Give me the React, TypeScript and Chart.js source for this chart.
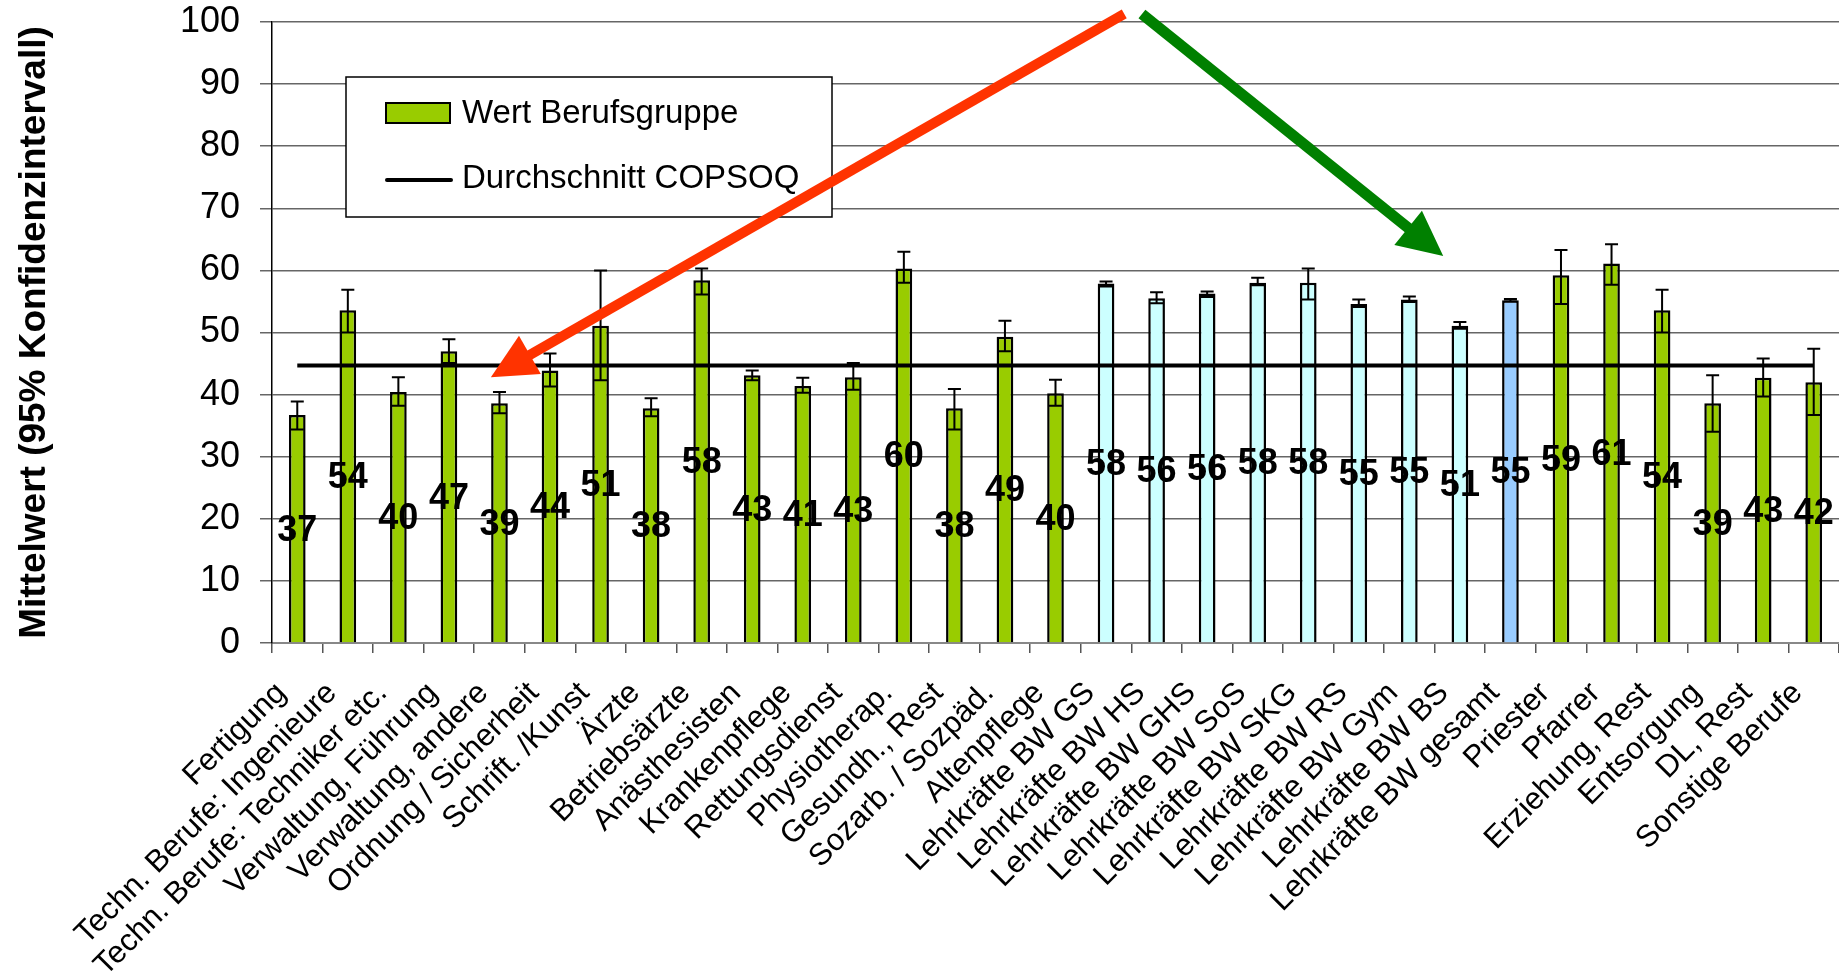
import React, { useEffect, useRef } from 'react';
import { Chart, registerables } from 'chart.js';

Chart.register(...registerables);

const categories: string[] = [
  'Fertigung',
  'Techn. Berufe: Ingenieure',
  'Techn. Berufe: Techniker etc.',
  'Verwaltung, Führung',
  'Verwaltung, andere',
  'Ordnung / Sicherheit',
  'Schrift. /Kunst',
  'Ärzte',
  'Betriebsärzte',
  'Anästhesisten',
  'Krankenpflege',
  'Rettungsdienst',
  'Physiotherap.',
  'Gesundh., Rest',
  'Sozarb. / Sozpäd.',
  'Altenpflege',
  'Lehrkräfte BW GS',
  'Lehrkräfte BW HS',
  'Lehrkräfte BW GHS',
  'Lehrkräfte BW SoS',
  'Lehrkräfte BW SKG',
  'Lehrkräfte BW RS',
  'Lehrkräfte BW Gym',
  'Lehrkräfte BW BS',
  'Lehrkräfte BW gesamt',
  'Priester',
  'Pfarrer',
  'Erziehung, Rest',
  'Entsorgung',
  'DL, Rest',
  'Sonstige Berufe',
];

const values: number[] = [
  36.7, 53.6, 40.4, 47.0, 38.6, 43.9, 51.1, 37.8, 58.4, 43.1, 41.4, 42.8, 60.3, 37.8, 49.3, 40.2,
  57.9, 55.5, 56.3, 58.0, 58.0, 54.6, 55.3, 51.1, 55.2, 59.2, 61.1, 53.6, 38.6, 42.7, 42.0,
];

const errLow: number[] = [
  34.4, 50.0, 38.2, 45.1, 37.0, 41.3, 42.3, 36.5, 56.1, 42.3, 40.3, 40.8, 58.0, 34.4, 47.0, 38.2,
  57.4, 54.7, 55.7, 57.6, 55.3, 54.1, 54.9, 50.6, 55.0, 54.6, 57.7, 50.0, 34.0, 39.7, 36.7,
];

const errHigh: number[] = [
  38.9, 56.9, 42.8, 48.9, 40.4, 46.6, 60.0, 39.4, 60.3, 43.9, 42.7, 45.1, 63.0, 40.9, 51.9, 42.4,
  58.2, 56.5, 56.6, 58.8, 60.3, 55.3, 55.8, 51.7, 55.4, 63.3, 64.2, 56.9, 43.1, 45.8, 47.4,
];

// g = general occupation group, t = teacher subgroup, tt = teachers total
const groups: string[] = [
  'g', 'g', 'g', 'g', 'g', 'g', 'g', 'g', 'g', 'g', 'g', 'g', 'g', 'g', 'g', 'g',
  't', 't', 't', 't', 't', 't', 't', 't', 'tt', 'g', 'g', 'g', 'g', 'g', 'g',
];

const averageCOPSOQ = 44.7;

const seriesLabels: string[] = ['Wert Berufsgruppe', 'Durchschnitt COPSOQ'];
const yAxisTitle = 'Mittelwert (95% Konfidenzintervall)';

const FONT = "'Liberation Sans', Arial, Helvetica, sans-serif";
const groupColor: Record<string, string> = { g: '#99CC00', t: '#CCFFFF', tt: '#99CCFF' };

// annotation arrows, in (category index, value) units
const arrows = [
  { from: [16.36, 101.3], to: [3.83, 42.8], color: '#FF3300', width: 10 },
  { from: [16.71, 101.3], to: [22.67, 62.3], color: '#008000', width: 11 },
];

function drawArrow(ctx: CanvasRenderingContext2D, x1: number, y1: number, x2: number, y2: number, color: string, width: number) {
  const dx = x2 - x1;
  const dy = y2 - y1;
  const len = Math.hypot(dx, dy);
  const ux = dx / len;
  const uy = dy / len;
  const headLen = 45;
  const headHalf = 22;
  const bx = x2 - ux * headLen;
  const by = y2 - uy * headLen;
  ctx.save();
  ctx.strokeStyle = color;
  ctx.lineWidth = width;
  ctx.lineCap = 'butt';
  ctx.beginPath();
  ctx.moveTo(x1, y1);
  ctx.lineTo(bx + ux * 3, by + uy * 3);
  ctx.stroke();
  ctx.fillStyle = color;
  ctx.beginPath();
  ctx.moveTo(x2, y2);
  ctx.lineTo(bx - uy * headHalf, by + ux * headHalf);
  ctx.lineTo(bx + uy * headHalf, by - ux * headHalf);
  ctx.closePath();
  ctx.fill();
  ctx.restore();
}

const errorBarPlugin = {
  id: 'errorBarsAndLabels',
  afterDatasetsDraw(chart: any) {
    const meta = chart.getDatasetMeta(0);
    const y = chart.scales.y;
    const ctx: CanvasRenderingContext2D = chart.ctx;
    ctx.save();
    ctx.strokeStyle = '#000';
    ctx.lineWidth = 2;
    meta.data.forEach((bar: any, i: number) => {
      const x = bar.x;
      const yh = y.getPixelForValue(errHigh[i]);
      const yl = y.getPixelForValue(errLow[i]);
      ctx.beginPath();
      ctx.moveTo(x, yh);
      ctx.lineTo(x, yl);
      ctx.moveTo(x - 6.5, yh);
      ctx.lineTo(x + 6.5, yh);
      ctx.moveTo(x - 6.5, yl);
      ctx.lineTo(x + 6.5, yl);
      ctx.stroke();
    });
    ctx.fillStyle = '#000';
    ctx.font = `bold 36px ${FONT}`;
    ctx.textAlign = 'center';
    ctx.textBaseline = 'middle';
    meta.data.forEach((bar: any, i: number) => {
      const cy = (bar.y + bar.base) / 2;
      ctx.fillText(String(Math.round(values[i])), bar.x, cy + 2);
    });
    ctx.restore();
  },
};

const legendArrowPlugin = {
  id: 'legendArrows',
  afterDraw(chart: any) {
    const ctx: CanvasRenderingContext2D = chart.ctx;
    const area = chart.chartArea;
    const bx = area.left + 74;
    const by = area.top + 55;
    const bw = 486;
    const bh = 140;
    ctx.save();
    ctx.fillStyle = '#fff';
    ctx.fillRect(bx, by, bw, bh);
    ctx.strokeStyle = '#000';
    ctx.lineWidth = 1.5;
    ctx.strokeRect(bx, by, bw, bh);
    // bar sample
    ctx.fillStyle = groupColor.g;
    ctx.fillRect(bx + 40, by + 26, 64, 20);
    ctx.lineWidth = 2;
    ctx.strokeRect(bx + 40, by + 26, 64, 20);
    // line sample
    ctx.lineWidth = 4;
    ctx.lineCap = 'round';
    ctx.beginPath();
    ctx.moveTo(bx + 41, by + 103);
    ctx.lineTo(bx + 105, by + 103);
    ctx.stroke();
    ctx.fillStyle = '#000';
    ctx.font = `33px ${FONT}`;
    ctx.textAlign = 'left';
    ctx.textBaseline = 'middle';
    const ds = chart.data.datasets;
    ctx.fillText(ds[0].label, bx + 116, by + 37);
    ctx.fillText(ds[1].label, bx + 116, by + 102);
    ctx.restore();

    const xs = chart.scales.x;
    const ys = chart.scales.y;
    arrows.forEach((a) => {
      drawArrow(
        ctx,
        xs.getPixelForValue(a.from[0]),
        ys.getPixelForValue(a.from[1]),
        xs.getPixelForValue(a.to[0]),
        ys.getPixelForValue(a.to[1]),
        a.color,
        a.width,
      );
    });
  },
};

export default function App() {
  const ref = useRef<HTMLCanvasElement>(null);
  useEffect(() => {
    document.body.style.margin = '0';
    const canvas = ref.current!;
    const chart = new Chart(canvas, {
      type: 'bar',
      data: {
        labels: categories,
        datasets: [
          {
            type: 'bar',
            label: seriesLabels[0],
            data: values,
            backgroundColor: groups.map((g) => groupColor[g]),
            borderColor: '#000',
            borderWidth: 2.5,
            barPercentage: 0.33,
            categoryPercentage: 1,
            order: 2,
          } as any,
          {
            type: 'line',
            label: seriesLabels[1],
            data: categories.map(() => averageCOPSOQ),
            borderColor: '#000',
            borderWidth: 4,
            pointRadius: 0,
            fill: false,
            order: 1,
          } as any,
        ],
      },
      options: {
        responsive: false,
        animation: false,
        devicePixelRatio: 1,
        layout: { padding: { top: 22, left: 0, right: 0, bottom: 0 } },
        plugins: {
          legend: { display: false },
          tooltip: { enabled: false },
        },
        scales: {
          x: {
            offset: true,
            grid: {
              offset: true,
              drawOnChartArea: false,
              drawTicks: true,
              tickLength: 10,
              color: '#555',
              lineWidth: 1.5,
            },
            border: { color: '#888', width: 2 },
            ticks: {
              autoSkip: false,
              maxRotation: 45,
              minRotation: 45,
              padding: 22,
              labelOffset: -16,
              color: '#000',
              font: { family: FONT, size: 31 },
            },
            afterFit: (s: any) => {
              s.height = 330;
              s.paddingLeft = 0;
              s.paddingRight = 0;
            },
          },
          y: {
            min: 0,
            max: 100,
            ticks: {
              stepSize: 10,
              padding: 20,
              color: '#000',
              font: { family: FONT, size: 36 },
            },
            grid: {
              color: '#666',
              lineWidth: 1.5,
              tickLength: 12,
              drawTicks: true,
            },
            border: { color: '#000', width: 1.5 },
            title: {
              display: true,
              text: yAxisTitle,
              color: '#000',
              font: { family: FONT, size: 37, weight: 'bold' },
              padding: { top: 13, bottom: 0 },
            },
            afterFit: (s: any) => {
              s.width = 272;
              s.paddingTop = 0;
              s.paddingBottom = 0;
            },
          },
        },
      },
      plugins: [errorBarPlugin, legendArrowPlugin],
    });
    return () => chart.destroy();
  }, []);
  return (
    <div style={{ width: 1839, height: 973, position: 'relative', background: '#fff' }}>
      <canvas ref={ref} width={1839} height={973} style={{ display: 'block' }} />
    </div>
  );
}
